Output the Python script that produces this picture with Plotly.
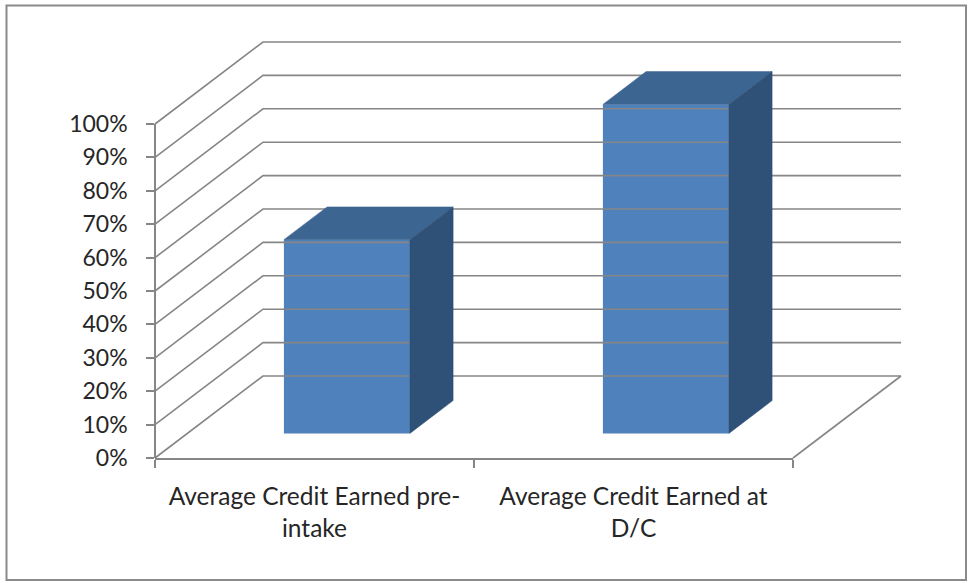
import plotly.graph_objects as go

# ---------------- data ----------------
categories = ["Average Credit Earned pre-<br>intake", "Average Credit Earned at<br>D/C"]
values = [0.58, 0.985]
tick_values = [i / 10 for i in range(11)]

# ---------------- layout constants (pixels of the 973x583 canvas) ----------------
W_PX, H_PX = 973, 583
X_LEFT_PX, X_RIGHT_PX = 155, 793      # front floor edge
Y_ZERO_PX, Y_TOP_PX = 458, 124        # 0% and 100% on the front axis
PX_PER_CAT = (X_RIGHT_PX - X_LEFT_PX) / len(categories)
PX_PER_UNIT = Y_ZERO_PX - Y_TOP_PX

DEPTH_DX = 108 / PX_PER_CAT           # oblique depth offset in category units
DEPTH_DY = 82 / PX_PER_UNIT           # oblique depth offset in value units
BAR_W = 126 / PX_PER_CAT
D0, D1 = 0.30, 0.70                   # bar front / back depth fractions

FRONT = "#4F81BD"
TOP = "#3C6591"
SIDE = "#2F5077"
GRID = "#868686"
FONT = "Lato"
TXT = "#262626"

x_lo = -0.5 - X_LEFT_PX / PX_PER_CAT
x_hi = -0.5 + (W_PX - X_LEFT_PX) / PX_PER_CAT
y_lo = -(H_PX - Y_ZERO_PX) / PX_PER_UNIT
y_hi = Y_ZERO_PX / PX_PER_UNIT

fig = go.Figure()

# back wall / side wall gridlines
gx, gy = [], []
x_start = -0.5
x_end = len(categories) - 0.5
for t in tick_values:
    gx += [x_start, x_start + DEPTH_DX, x_end + DEPTH_DX, None]
    gy += [t, t + DEPTH_DY, t + DEPTH_DY, None]
# right floor edge
gx += [x_end, x_end + DEPTH_DX, None]
gy += [0, DEPTH_DY, None]
fig.add_trace(go.Scatter(x=gx, y=gy, mode="lines", line=dict(color=GRID, width=1.6),
                         hoverinfo="skip", showlegend=False))

# bars
for i, v in enumerate(values):
    xl = i - BAR_W / 2
    xr = i + BAR_W / 2
    # top face
    fig.add_trace(go.Scatter(
        x=[xl + D0 * DEPTH_DX, xr + D0 * DEPTH_DX, xr + D1 * DEPTH_DX, xl + D1 * DEPTH_DX, xl + D0 * DEPTH_DX],
        y=[v + D0 * DEPTH_DY, v + D0 * DEPTH_DY, v + D1 * DEPTH_DY, v + D1 * DEPTH_DY, v + D0 * DEPTH_DY],
        fill="toself", fillcolor=TOP, mode="lines", line=dict(color=TOP, width=0.5),
        hoverinfo="skip", showlegend=False))
    # side face
    fig.add_trace(go.Scatter(
        x=[xr + D0 * DEPTH_DX, xr + D0 * DEPTH_DX, xr + D1 * DEPTH_DX, xr + D1 * DEPTH_DX, xr + D0 * DEPTH_DX],
        y=[v + D0 * DEPTH_DY, D0 * DEPTH_DY, D1 * DEPTH_DY, v + D1 * DEPTH_DY, v + D0 * DEPTH_DY],
        fill="toself", fillcolor=SIDE, mode="lines", line=dict(color=SIDE, width=0.5),
        hoverinfo="skip", showlegend=False))

# front faces
fig.add_trace(go.Bar(
    x=[i + D0 * DEPTH_DX for i in range(len(values))],
    y=values, base=[D0 * DEPTH_DY] * len(values), width=BAR_W,
    marker=dict(color=FRONT, line=dict(width=0)),
    hovertemplate="%{y:.0%}<extra></extra>", showlegend=False))

# dummy trace to carry the visible category / percent axes
fig.add_trace(go.Scatter(x=categories, y=[None, None], xaxis="x2", yaxis="y2",
                         mode="markers", showlegend=False, hoverinfo="skip"))

fig.update_layout(
    width=W_PX, height=H_PX,
    margin=dict(l=0, r=0, t=0, b=0, pad=0, autoexpand=False),
    paper_bgcolor="white", plot_bgcolor="rgba(0,0,0,0)",
    font=dict(family=FONT, size=22, color=TXT),
    xaxis=dict(domain=[0, 1], range=[x_lo, x_hi], visible=False, fixedrange=True, automargin=False),
    yaxis=dict(domain=[0, 1], range=[y_lo, y_hi], visible=False, fixedrange=True, automargin=False),
    xaxis2=dict(domain=[X_LEFT_PX / W_PX, X_RIGHT_PX / W_PX], anchor="y2", type="category",
                categoryorder="array", categoryarray=categories, range=[-0.5, len(categories) - 0.5],
                tickson="boundaries", ticks="outside", ticklen=8, tickcolor=GRID, tickwidth=1.6,
                showline=True, linecolor=GRID, linewidth=1.6, showgrid=False, automargin=False,
                ticklabelstandoff=16, tickfont=dict(family=FONT, size=24.5, color=TXT),
                fixedrange=True),
    yaxis2=dict(domain=[(H_PX - Y_ZERO_PX) / H_PX, (H_PX - Y_TOP_PX) / H_PX], anchor="free",
                position=X_LEFT_PX / W_PX, range=[0, 1], tickvals=tick_values, tickformat=".0%",
                ticks="outside", ticklen=8, tickcolor=GRID, tickwidth=1.6, automargin=False,
                showline=True, linecolor=GRID, linewidth=1.6, showgrid=False, zeroline=False,
                ticklabelstandoff=14, tickfont=dict(family=FONT, size=23, color=TXT),
                fixedrange=True),
    shapes=[dict(type="rect", xref="paper", yref="paper",
                 x0=6.5 / W_PX, x1=966 / W_PX, y0=1 - 580 / H_PX, y1=1 - 5.5 / H_PX,
                 line=dict(color="#8A8A8A", width=2), fillcolor="rgba(0,0,0,0)", layer="below")],
)

fig.write_html("out.html")
